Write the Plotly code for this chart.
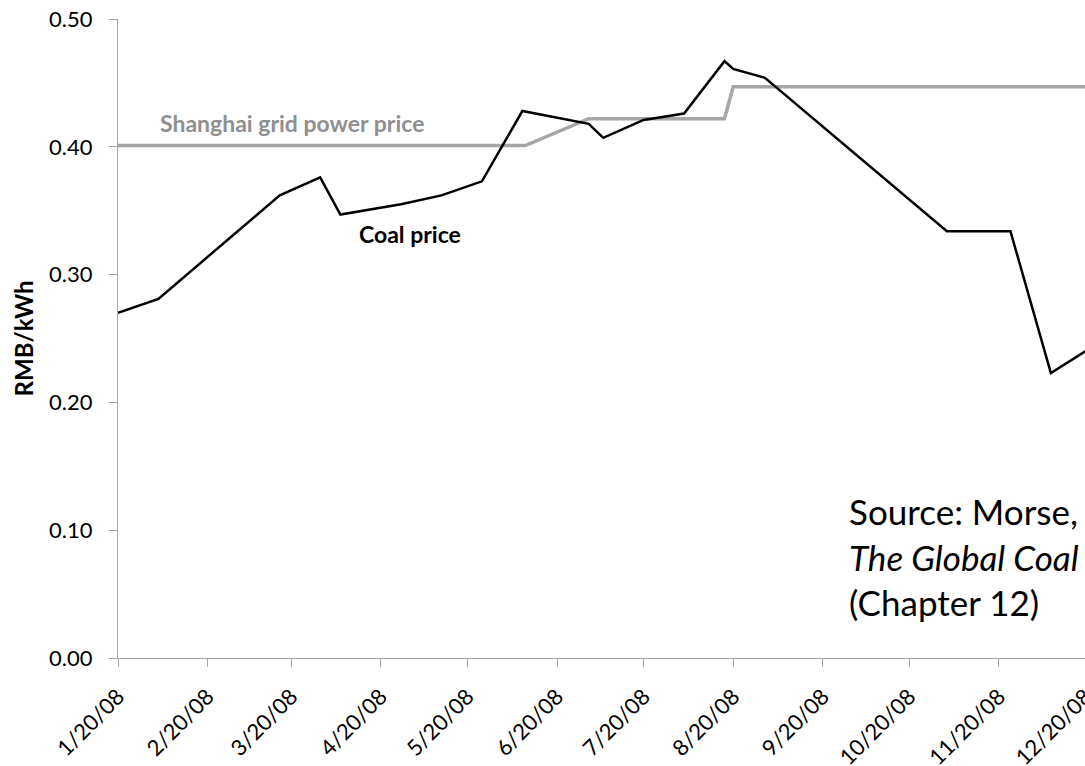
import plotly.graph_objects as go

# ---- data ----
coal_dates = ["2008-01-20", "2008-02-03", "2008-03-16", "2008-03-30", "2008-04-06",
              "2008-04-27", "2008-05-11", "2008-05-25", "2008-06-08", "2008-07-01",
              "2008-07-06", "2008-07-20", "2008-08-03", "2008-08-17", "2008-08-20",
              "2008-08-31", "2008-11-02", "2008-11-24", "2008-12-08", "2008-12-29"]
coal_price = [0.270, 0.281, 0.362, 0.376, 0.347,
              0.355, 0.362, 0.373, 0.428, 0.418,
              0.407, 0.421, 0.426, 0.467, 0.461,
              0.454, 0.334, 0.334, 0.223, 0.253]

grid_dates = ["2008-01-20", "2008-06-09", "2008-07-01", "2008-08-17", "2008-08-20", "2009-01-10"]
grid_price = [0.401, 0.401, 0.422, 0.422, 0.447, 0.447]

tick_dates = ["2008-01-20", "2008-02-20", "2008-03-20", "2008-04-20", "2008-05-20",
              "2008-06-20", "2008-07-20", "2008-08-20", "2008-09-20", "2008-10-20",
              "2008-11-20", "2008-12-20"]
tick_labels = ["1/20/08", "2/20/08", "3/20/08", "4/20/08", "5/20/08", "6/20/08",
               "7/20/08", "8/20/08", "9/20/08", "10/20/08", "11/20/08", "12/20/08"]

y_ticks = [0.0, 0.1, 0.2, 0.3, 0.4, 0.5]

FONT = "Lato"
AXIS_GRAY = "#a6a6a6"

fig = go.Figure()
fig.add_trace(go.Scatter(x=grid_dates, y=grid_price, mode="lines",
                         line=dict(color="#a6a6a6", width=3.5), showlegend=False,
                         name="Shanghai grid power price"))
fig.add_trace(go.Scatter(x=coal_dates, y=coal_price, mode="lines",
                         line=dict(color="#000000", width=2.5), showlegend=False,
                         name="Coal price"))

fig.add_annotation(x="2008-02-02 17:00", y=0.4186, xref="x", yref="y",
                   text="<b>Shanghai grid power price</b>", showarrow=False,
                   xanchor="left", yanchor="middle",
                   font=dict(family=FONT, size=23, color="#8f8f8f"))
fig.add_annotation(x="2008-04-11 14:00", y=0.3318, xref="x", yref="y",
                   text="<b>Coal price</b>", showarrow=False,
                   xanchor="left", yanchor="middle",
                   font=dict(family=FONT, size=23, color="#000000"))
fig.add_annotation(x="2008-09-28 12:00", y=0.0798, xref="x", yref="y",
                   text="Source: Morse,<br><i>The Global Coal</i><br>(Chapter 12)",
                   showarrow=False, xanchor="left", yanchor="middle", align="left",
                   font=dict(family=FONT, size=35, color="#000000"))

fig.update_layout(
    width=1130, height=766,
    margin=dict(l=118, r=0, t=19, b=108, autoexpand=False),
    plot_bgcolor="white", paper_bgcolor="white",
    font=dict(family=FONT, size=22, color="#000000"),
    xaxis=dict(
        type="date",
        range=["2008-01-20", "2009-01-04 09:36"],
        tickvals=tick_dates, ticktext=tick_labels, tickangle=-45,
        showgrid=False, zeroline=False, automargin=False,
        showline=True, linecolor=AXIS_GRAY, linewidth=1.3,
        ticks="outside", ticklen=8, tickcolor=AXIS_GRAY, tickwidth=1.3,
        tickfont=dict(family=FONT, size=22, color="#000000"),
        ticklabelstandoff=8,
    ),
    yaxis=dict(
        range=[0, 0.5],
        tickvals=y_ticks, tickformat=".2f",
        showgrid=False, zeroline=False, automargin=False,
        showline=True, linecolor=AXIS_GRAY, linewidth=1.3,
        ticks="outside", ticklen=8, tickcolor=AXIS_GRAY, tickwidth=1.3,
        tickfont=dict(family=FONT, size=22, color="#000000"),
        ticklabelstandoff=12,
        title=dict(text="<b>RMB/kWh</b>", font=dict(family=FONT, size=24, color="#000000"),
                   standoff=8),
    ),
)

fig.write_html("out.html", config={"displayModeBar": False},
               post_script="document.body.style.margin='0';document.body.style.overflow='hidden';")
